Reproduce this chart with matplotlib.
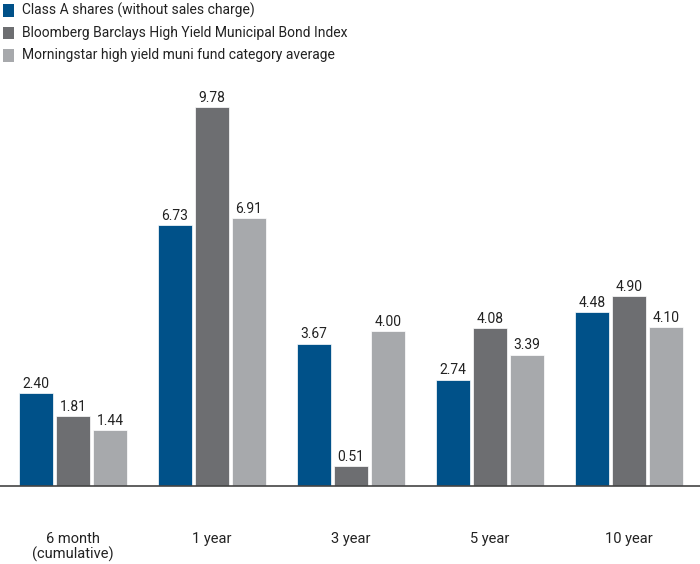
import matplotlib
matplotlib.use("Agg")
import matplotlib.pyplot as plt
from matplotlib.patches import Rectangle
import numpy as np

categories = ["6 month\n(cumulative)", "1 year", "3 year", "5 year", "10 year"]
series_names = ["Class A shares (without sales charge)",
                "Bloomberg Barclays High Yield Municipal Bond Index",
                "Morningstar high yield muni fund category average"]
class_a = [2.40, 6.73, 3.67, 2.74, 4.48]
index_vals = [1.81, 9.78, 0.51, 4.08, 4.90]
category_avg = [1.44, 6.91, 4.00, 3.39, 4.10]
colors = ["#005189", "#6d6e71", "#a7a9ac"]

plt.rcParams['font.family'] = ['Roboto', 'DejaVu Sans']

W, H = 700, 564
fig = plt.figure(figsize=(W/100, H/100), dpi=100)
base_px = 486
ymax = 10.5
ppu = 38.75
top_px = base_px - ymax*ppu
ax = fig.add_axes([0, (H-base_px)/H, 1, (base_px-top_px)/H])
spacing = 139.0
c0 = 73.0
ax.set_xlim(-c0/spacing, (W-c0)/spacing)
ax.set_ylim(0, ymax)

x = np.arange(len(categories))
w = 34/spacing
off = 37/spacing
for i, (vals, col) in enumerate(zip([class_a, index_vals, category_avg], colors)):
    xs = x + (i-1)*off
    ax.bar(xs, vals, width=w, color=col, edgecolor="white", linewidth=0.5)
    for xx, v in zip(xs, vals):
        ax.text(xx, v + 0.06, f"{v:.2f}", ha="center", va="bottom", fontsize=10, color="#222222")

for s in ["top", "right", "left"]:
    ax.spines[s].set_visible(False)
ax.spines["bottom"].set_color("#444444")
ax.spines["bottom"].set_linewidth(1.2)
ax.set_yticks([])
ax.set_xticks(x)
ax.set_xticklabels(categories, fontsize=10.5, color="#222222", linespacing=1.05)
ax.tick_params(axis="x", length=0, pad=33)

# legend
for i, (name, col) in enumerate(zip(series_names, colors)):
    yc = 10.5 + i*22.5
    fig.patches.append(Rectangle((3/W, 1-(yc+6)/H), 11/W, 12/H, transform=fig.transFigure,
                                 facecolor=col, edgecolor="none"))
    fig.text(22/W, 1-yc/H, name, fontsize=10, va="center", ha="left", color="#222222")

fig.savefig("out.png", dpi=100)
